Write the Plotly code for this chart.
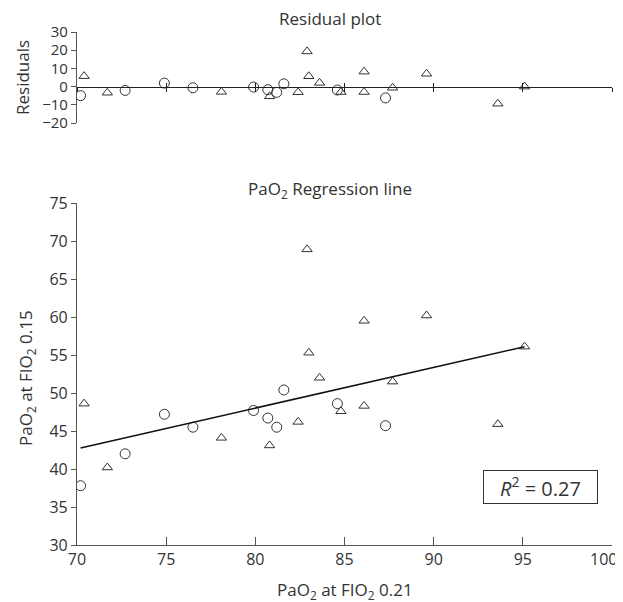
import numpy as np
import plotly.graph_objects as go

# ---- data ----
circle_x = [70.2, 72.7, 74.9, 76.5, 79.9, 80.7, 81.2, 81.6, 84.6, 87.3]
circle_y = [37.8, 42.0, 47.2, 45.5, 47.7, 46.7, 45.5, 50.4, 48.6, 45.7]
tri_x = [70.4, 71.7, 78.1, 80.8, 82.4, 82.9, 83.0, 83.6, 84.8, 86.1, 86.1, 87.7, 89.6, 93.6, 95.1]
tri_y = [48.6, 40.2, 44.1, 43.1, 46.2, 68.9, 55.3, 52.0, 47.6, 59.5, 48.3, 51.5, 60.2, 45.9, 56.1]
x_ticks = [70, 75, 80, 85, 90, 95, 100]
y_ticks = [30, 35, 40, 45, 50, 55, 60, 65, 70, 75]
res_ticks = [-20, -10, 0, 10, 20, 30]
r2_value = "0.27"

# ---- regression + residuals ----
all_x = np.array(circle_x + tri_x)
all_y = np.array(circle_y + tri_y)
slope, intercept = np.polyfit(all_x, all_y, 1)
line_x = np.array([all_x.min(), all_x.max()])
line_y = slope * line_x + intercept
circle_res = np.array(circle_y) - (slope * np.array(circle_x) + intercept)
tri_res = np.array(tri_y) - (slope * np.array(tri_x) + intercept)

ink = "#333333"
axc = "#555555"
font = "Open Sans"

fig = go.Figure()
mk_c = dict(symbol="circle-open", size=10, color=ink, line=dict(width=1, color=ink))
mk_t = dict(symbol="triangle-up-open", size=9, color=ink, line=dict(width=1, color=ink))

fig.add_trace(go.Scatter(x=circle_x, y=circle_y, mode="markers", marker=mk_c, xaxis="x", yaxis="y"))
fig.add_trace(go.Scatter(x=tri_x, y=tri_y, mode="markers", marker=mk_t, xaxis="x", yaxis="y"))
fig.add_trace(go.Scatter(x=line_x, y=line_y, mode="lines", line=dict(color="#111111", width=1.6),
                         xaxis="x", yaxis="y"))

fig.add_trace(go.Scatter(x=circle_x, y=circle_res, mode="markers", marker=mk_c, xaxis="x2", yaxis="y2"))
fig.add_trace(go.Scatter(x=tri_x, y=tri_res, mode="markers", marker=mk_t, xaxis="x2", yaxis="y2"))
fig.add_trace(go.Scatter(x=[], y=[], mode="markers", xaxis="x3", yaxis="y2", hoverinfo="skip"))

# page body has an 8px default margin; plot area target in screen px
W, H = 623, 602
OFF = 8
L, R, T, B = 77, 612, 32, 545
ml, mr, mt, mb = L - OFF, (W + OFF) - R, T - OFF, (H + OFF) - B
pw = R - L
ph = B - T
bot_top = (B - 203) / ph
top_bot = (B - 123) / ph
res_lo, res_hi = -20, 30
zero_pos = top_bot + (0 - res_lo) / (res_hi - res_lo) * (1 - top_bot)

tickfont = dict(family=font, size=16, color=ink)
titlefont = dict(family=font, size=17, color=ink)
last_x = x_ticks[-1]
# the last tick label is drawn as a right-aligned annotation so it stays inside the page
x_ticktext = [str(v) if v != last_x else "" for v in x_ticks]
common_x = dict(range=[70, 100], tickvals=x_ticks, showgrid=False, zeroline=False, automargin=False)

nb = "\u00a0"
fig.update_layout(
    width=W, height=H,
    margin=dict(l=ml, r=mr, t=mt, b=mb, autoexpand=False),
    paper_bgcolor="white", plot_bgcolor="white",
    showlegend=False,
    font=dict(family=font, color=ink),
    xaxis=dict(**common_x, domain=[0, 1], anchor="y", showline=True, linecolor=axc, linewidth=1.2,
               ticktext=x_ticktext, ticks="inside", ticklen=8, tickcolor=axc, tickfont=tickfont),
    yaxis=dict(domain=[0, bot_top], range=[30, 75], tickvals=y_ticks, showgrid=False, zeroline=False,
               automargin=False, anchor="x", showline=True, linecolor=axc, linewidth=1.2,
               ticks="outside", ticklen=5, tickcolor=axc, tickfont=tickfont),
    xaxis2=dict(**common_x, domain=[0, 1], anchor="free", position=zero_pos, showline=True,
                linecolor="#222222", linewidth=1.2, ticks="outside", ticklen=4, tickcolor="#222222",
                showticklabels=False),
    xaxis3=dict(**common_x, overlaying="x2", anchor="free", position=zero_pos, showline=False,
                ticks="inside", ticklen=4, tickcolor="#222222", showticklabels=False),
    yaxis2=dict(domain=[top_bot, 1], range=[res_lo, res_hi], tickvals=res_ticks,
                ticktext=[str(v).replace("-", "\u2212") for v in res_ticks],
                showgrid=False, zeroline=False, automargin=False, anchor="x2", showline=True,
                linecolor=axc, linewidth=1.2, ticks="outside", ticklen=5, tickcolor=axc,
                tickfont=dict(family=font, size=15, color=ink)),
    annotations=[
        dict(text="Residual plot", xref="paper", yref="paper", x=(330 - L) / pw, y=1.0 + 13 / ph,
             xanchor="center", yanchor="middle", showarrow=False, font=titlefont),
        dict(text="PaO<sub>2</sub> Regression line", xref="paper", yref="paper", x=(330 - L) / pw,
             y=bot_top + 14 / ph, xanchor="center", yanchor="middle", showarrow=False, font=titlefont),
        dict(text="PaO<sub>2</sub> at FIO<sub>2</sub> 0.21", xref="paper", yref="paper",
             x=(345 - L) / pw, y=-(590 - B) / ph, xanchor="center", yanchor="middle",
             showarrow=False, font=titlefont),
        dict(text="PaO<sub>2</sub> at FIO<sub>2</sub> 0.15", xref="paper", yref="paper",
             x=-(L - 26) / pw, y=(B - 378) / ph, xanchor="center", yanchor="middle", textangle=-90,
             showarrow=False, font=titlefont),
        dict(text="Residuals", xref="paper", yref="paper",
             x=-(L - 22) / pw, y=(B - 78) / ph, xanchor="center", yanchor="middle", textangle=-90,
             showarrow=False, font=titlefont),
        dict(text=str(last_x), xref="x", yref="paper", x=last_x, y=-(559 - B) / ph,
             xanchor="right", yanchor="middle", xshift=6, showarrow=False, font=tickfont,
             borderpad=0),
        dict(text="<i>R</i><sup>2</sup>" + nb + "=" + nb + r2_value,
             xref="x", yref="y", x=96.0, y=37.6,
             xanchor="center", yanchor="middle", showarrow=False, bordercolor="#333333",
             borderwidth=1, borderpad=0, width=113, height=32, align="center", valign="middle",
             bgcolor="white", font=dict(family=font, size=20, color=ink)),
    ],
)

fig.write_html("out.html")
